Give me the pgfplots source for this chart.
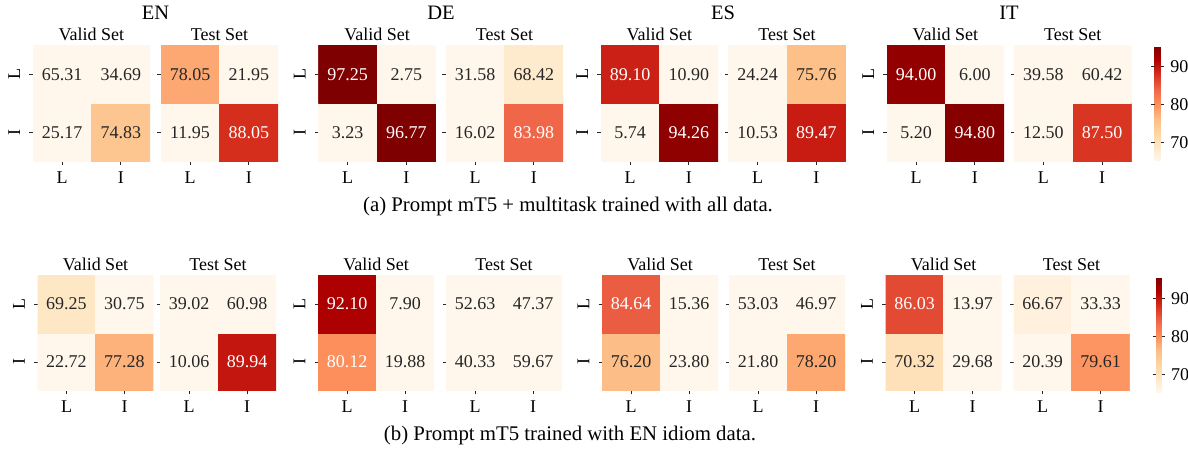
\documentclass[border=0pt]{standalone}
\usepackage{fontspec}
\setmainfont{Liberation Serif}
\usepackage{pgfplots}
\usepackage{pgfplotstable}
\pgfplotsset{compat=1.18}
\definecolor{txtdark}{HTML}{262626}

\pgfplotsset{
  colormap={OrRd}{rgb255=(255,247,236) rgb255=(254,232,200) rgb255=(253,212,158) rgb255=(253,187,132) rgb255=(252,141,89) rgb255=(239,101,72) rgb255=(215,48,31) rgb255=(179,0,0) rgb255=(127,0,0)},
  heat/.style={
    scale only axis,
    xmin=-0.5, xmax=1.5, ymin=-0.5, ymax=1.5,
    axis line style={draw=none},
    xtick={0,1}, ytick={0,1}, xticklabels={L,I}, yticklabels={I,L},
    yticklabel style={rotate=90},
    yticklabel shift=3pt,
    tick pos=left,
    tick align=outside, major tick length=3.5pt, tick style={txtdark, line width=0.8pt},
    point meta min=65.2, point meta max=95.4,
    colormap name=OrRd,
    anchor=north west,
    title style={at={(0.5,1)}, anchor=south, yshift=-6pt, inner sep=4pt},
  },
  row1/.style={width=117.5pt, height=117pt},
  row2/.style={width=116pt, height=116pt},
  noylab/.style={yticklabels={}},
}

\newcommand{\heat}[5]{%
\begin{axis}[heat, at={(#1pt,#2pt)}, title={#3}, #5]
\addplot[matrix plot*, mesh/cols=2, point meta=explicit] table[meta=v]{#4};
\addplot[only marks, mark=none, point meta=explicit,
  visualization depends on={\thisrow{v}\as\val},
  nodes near coords={\pgfmathparse{\val>80?1:0}\ifnum\pgfmathresult=1 \color{white}\else\color{txtdark}\fi\pgfmathprintnumber[fixed,fixed zerofill,precision=2,assume math mode=true]{\val}},
  every node near coord/.append style={anchor=center}] table[meta=v]{#4};
\end{axis}}

% rows: y=0 is the I row, y=1 is the L row
\pgfplotstableread{
x y v
0 0 25.17
1 0 74.83
0 1 65.31
1 1 34.69
}\aENv
\pgfplotstableread{
x y v
0 0 11.95
1 0 88.05
0 1 78.05
1 1 21.95
}\aENt
\pgfplotstableread{
x y v
0 0 3.23
1 0 96.77
0 1 97.25
1 1 2.75
}\aDEv
\pgfplotstableread{
x y v
0 0 16.02
1 0 83.98
0 1 31.58
1 1 68.42
}\aDEt
\pgfplotstableread{
x y v
0 0 5.74
1 0 94.26
0 1 89.10
1 1 10.90
}\aESv
\pgfplotstableread{
x y v
0 0 10.53
1 0 89.47
0 1 24.24
1 1 75.76
}\aESt
\pgfplotstableread{
x y v
0 0 5.20
1 0 94.80
0 1 94.00
1 1 6.00
}\aITv
\pgfplotstableread{
x y v
0 0 12.50
1 0 87.50
0 1 39.58
1 1 60.42
}\aITt

\pgfplotstableread{
x y v
0 0 22.72
1 0 77.28
0 1 69.25
1 1 30.75
}\bENv
\pgfplotstableread{
x y v
0 0 10.06
1 0 89.94
0 1 39.02
1 1 60.98
}\bENt
\pgfplotstableread{
x y v
0 0 80.12
1 0 19.88
0 1 92.10
1 1 7.90
}\bDEv
\pgfplotstableread{
x y v
0 0 40.33
1 0 59.67
0 1 52.63
1 1 47.37
}\bDEt
\pgfplotstableread{
x y v
0 0 76.20
1 0 23.80
0 1 84.64
1 1 15.36
}\bESv
\pgfplotstableread{
x y v
0 0 21.80
1 0 78.20
0 1 53.03
1 1 46.97
}\bESt
\pgfplotstableread{
x y v
0 0 70.32
1 0 29.68
0 1 86.03
1 1 13.97
}\bITv
\pgfplotstableread{
x y v
0 0 20.39
1 0 79.61
0 1 66.67
1 1 33.33
}\bITt

\begin{document}
\fontsize{18}{21}\selectfont
\begin{tikzpicture}
\path[use as bounding box] (0pt,0pt) rectangle (1188pt,450pt);

% row (a): top of heatmaps at y=45px -> 405pt
\heat{32.7}{405}{Valid Set}{\aENv}{row1}
\heat{160.7}{405}{Test Set}{\aENt}{row1,noylab}
\heat{318.3}{405}{Valid Set}{\aDEv}{row1}
\heat{445.7}{405}{Test Set}{\aDEt}{row1,noylab}
\heat{600.7}{405}{Valid Set}{\aESv}{row1}
\heat{728.3}{405}{Test Set}{\aESt}{row1,noylab}
\heat{886.7}{405}{Valid Set}{\aITv}{row1}
\heat{1014}{405}{Test Set}{\aITt}{row1,noylab,colorbar,
  colorbar style={at={(parent axis.north east)}, anchor=north west, xshift=14.5pt, yshift=-1pt,
    width=6pt, height=115pt, ytick={70,80,90}, axis line style={draw=none},
    yticklabel style={/pgf/number format/assume math mode=true},
    tick align=outside, major tick length=3.5pt, tick style={txtdark, line width=0.8pt}}}

% row (b): top of heatmaps at y=275px -> 175pt
\heat{37.5}{175}{Valid Set}{\bENv}{row2}
\heat{160}{175}{Test Set}{\bENt}{row2,noylab}
\heat{318}{175}{Valid Set}{\bDEv}{row2}
\heat{446}{175}{Test Set}{\bDEt}{row2,noylab}
\heat{602}{175}{Valid Set}{\bESv}{row2}
\heat{729}{175}{Test Set}{\bESt}{row2,noylab}
\heat{885.5}{175}{Valid Set}{\bITv}{row2}
\heat{1013.5}{175}{Test Set}{\bITt}{row2,noylab,colorbar,
  colorbar style={at={(parent axis.north east)}, anchor=north west, xshift=18pt, yshift=-2.7pt,
    width=5.5pt, height=115pt, ytick={70,80,90}, axis line style={draw=none},
    yticklabel style={/pgf/number format/assume math mode=true},
    tick align=outside, major tick length=3.5pt, tick style={txtdark, line width=0.8pt}}}

% group titles
\node[font=\fontsize{20.5}{24}\selectfont] at (155.5pt,437pt) {EN};
\node[font=\fontsize{20.5}{24}\selectfont] at (441pt,437pt) {DE};
\node[font=\fontsize{20.5}{24}\selectfont] at (723pt,437pt) {ES};
\node[font=\fontsize{20.5}{24}\selectfont] at (1009pt,437pt) {IT};

% captions
\node[font=\fontsize{20.8}{24}\selectfont] at (568pt,244pt) {(a) Prompt mT5 + multitask trained with all data.};
\node[font=\fontsize{20.8}{24}\selectfont] at (570pt,15pt) {(b) Prompt mT5 trained with EN idiom data.};
\end{tikzpicture}
\end{document}
